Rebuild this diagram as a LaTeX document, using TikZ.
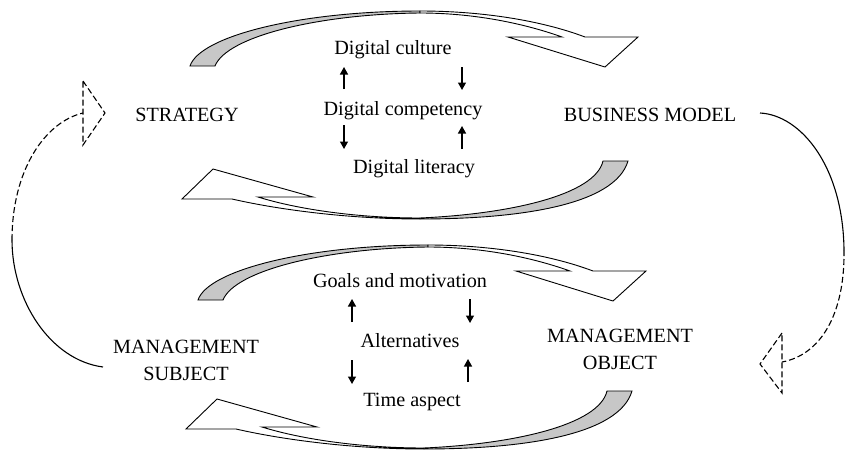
\documentclass[tikz,border=0pt]{standalone}
\usepackage{fontspec}
\setmainfont{Liberation Serif}
\usetikzlibrary{arrows.meta}
\begin{document}
\begin{tikzpicture}[x=1pt,y=-1pt,
  lbl/.style={font=\fontsize{20.2}{24}\selectfont, inner sep=0pt, anchor=base},
  band/.style={draw=black, line width=0.9pt, line join=miter},
  backface/.style={band, fill=black!22},
  frontface/.style={band, fill=white},
  small/.style={line width=1.3pt, -{Triangle[length=7.5pt,width=8pt]}},
  loopline/.style={line width=1.1pt},
  loopdash/.style={line width=1.1pt, dash pattern=on 6pt off 3pt}]
\useasboundingbox (0,0) rectangle (845,450);

% ---------- texts ----------
\node[lbl] (culture) at (393,54) {Digital culture};
\node[lbl] (competency) at (403,115) {Digital competency};
\node[lbl] (literacy) at (414,173) {Digital literacy};
\node[lbl] (strategy) at (187,121) {STRATEGY};
\node[lbl] (business) at (650,121) {BUSINESS MODEL};
\node[lbl] (goals) at (400,287) {Goals and motivation};
\node[lbl] (alternatives) at (410,347) {Alternatives};
\node[lbl] (timeasp) at (412,406) {Time aspect};
\node[lbl] (msubA) at (186,353) {MANAGEMENT};
\node[lbl] (msubB) at (186,380) {SUBJECT};
\node[lbl] (mobjA) at (620,342) {MANAGEMENT};
\node[lbl] (mobjB) at (620,369) {OBJECT};

% ---------- small arrows ----------
\coordinate (a1s) at (344,89);  \coordinate (a1e) at (344,67);
\coordinate (a2s) at (462,67);  \coordinate (a2e) at (462,90);
\coordinate (a3s) at (344,125); \coordinate (a3e) at (344,149);
\coordinate (a4s) at (462,149); \coordinate (a4e) at (462,126);
\coordinate (b1s) at (352,322); \coordinate (b1e) at (352,299);
\coordinate (b2s) at (470,299); \coordinate (b2e) at (470,323);
\coordinate (b3s) at (352,360); \coordinate (b3e) at (352,384);
\coordinate (b4s) at (468,382); \coordinate (b4e) at (468,359);
\foreach \p in {a1,a2,a3,a4,b1,b2,b3,b4} \draw[small] (\p s) -- (\p e);

% ---------- upper curved arrows (tail left, head right) ----------
\foreach \sx/\sy in {190/66, 198/300}{
\begin{scope}[shift={(\sx,\sy)}]
  \draw[backface] (0,0) .. controls (10,-30) and (110,-55) .. (230,-55)
     -- (230,-53) .. controls (130,-52) and (37,-30) .. (25,0) -- cycle;
  \draw[frontface] (230,-55) .. controls (290,-55) and (350,-46) .. (395,-29)
     -- (448,-29) -- (415,1) -- (318,-29) -- (372,-29)
     .. controls (330,-44) and (280,-53) .. (230,-53) -- cycle;
\end{scope}}

% ---------- lower curved arrows (tail right, head left) ----------
\foreach \sx/\sy in {0/0, 4/230}{
\begin{scope}[shift={(\sx,\sy)}]
  \draw[backface] (628,161) .. controls (615,205) and (520,219) .. (420,219)
     -- (420,218) .. controls (510,214) and (595,195) .. (603,161) -- cycle;
  \draw[frontface] (420,219) .. controls (350,219) and (280,210) .. (232,199)
     -- (182,199) -- (213,169) -- (313,197) -- (258,197)
     .. controls (300,210) and (360,218) .. (420,218) -- cycle;
\end{scope}}

% ---------- left dashed loop: SUBJECT -> STRATEGY ----------
\coordinate (lstart) at (103,367);
\coordinate (lmid) at (12,240);
\coordinate (lend) at (83,113);
\draw[loopline] (lstart) .. controls (50,360) and (12,300) .. (lmid);
\draw[loopdash] (lmid) .. controls (12,170) and (45,122) .. (lend);
\draw[loopdash] (83,81) -- (105,113) -- (83,145) -- cycle;

% ---------- right dashed loop: BUSINESS MODEL -> OBJECT ----------
\coordinate (rstart) at (760,113);
\coordinate (rmid) at (844,250);
\coordinate (rend) at (782,362);
\draw[loopline] (rstart) .. controls (800,115) and (843,165) .. (rmid);
\draw[loopdash] (rmid) .. controls (845,315) and (820,355) .. (rend);
\draw[loopdash] (782,333) -- (760,364) -- (782,393) -- cycle;
\end{tikzpicture}
\end{document}
